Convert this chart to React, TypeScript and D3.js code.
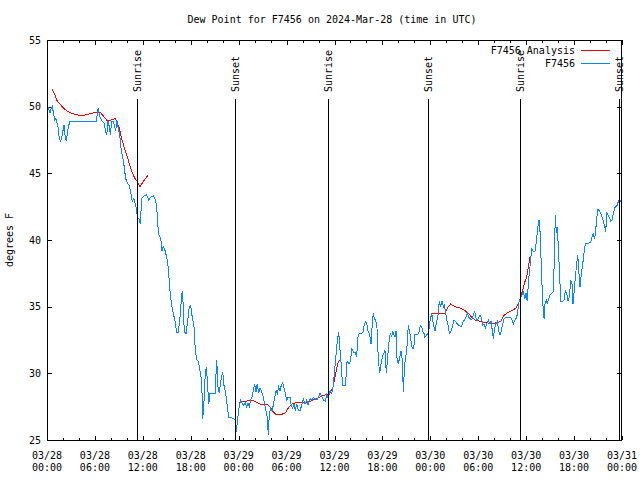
import React from "react";
import * as d3 from "d3";

// hours since 2024-03-28 00:00 UTC
const obsTime = [0.13,0.38,0.54,0.66,0.79,0.96,1.09,1.21,1.38,1.54,1.72,1.84,2.00,2.13,2.25,2.42,2.54,2.67,2.88,6.17,6.30,6.42,6.51,6.72,6.92,7.14,7.35,7.48,7.64,7.80,7.93,8.10,8.30,8.48,8.60,8.77,8.89,9.10,9.30,9.48,9.64,9.85,10.06,10.27,10.48,10.68,10.89,11.11,11.23,11.40,11.52,11.68,11.86,12.15,12.48,12.73,12.99,13.31,13.52,13.74,13.86,14.02,14.24,14.40,14.56,14.78,14.99,15.19,15.40,15.61,15.82,16.03,16.24,16.44,16.65,16.82,16.94,17.07,17.19,17.41,17.62,17.82,17.99,18.19,18.41,18.57,18.75,18.95,19.16,19.37,19.50,19.66,19.82,19.95,20.07,20.25,20.41,21.04,21.25,21.41,21.58,21.75,22.00,22.16,22.38,22.58,22.75,23.00,23.33,23.54,23.67,23.83,24.04,24.26,24.46,24.67,24.83,25.01,25.17,25.33,25.51,25.67,25.83,26.01,26.17,26.33,26.51,26.67,26.89,27.09,27.26,27.42,27.59,27.71,27.84,28.01,28.17,28.34,28.51,28.68,28.84,29.01,29.18,29.34,29.51,29.68,29.84,30.02,30.18,30.43,30.59,30.77,30.93,31.09,31.27,31.47,31.68,31.89,32.09,32.31,32.52,32.68,32.85,33.02,33.18,33.35,33.56,33.77,33.97,34.19,34.40,34.60,34.85,35.02,35.22,35.44,35.65,35.85,36.06,36.28,36.40,36.53,36.65,36.78,36.90,37.03,37.32,37.44,37.57,37.82,38.03,38.15,38.36,38.57,38.78,38.91,39.11,39.41,39.61,39.73,39.91,40.07,40.23,40.41,40.57,40.73,40.86,40.98,41.16,41.32,41.49,41.66,41.82,41.99,42.16,42.32,42.49,42.66,42.83,42.99,43.16,43.29,43.41,43.58,43.70,43.83,43.99,44.16,44.33,44.49,44.62,44.74,44.87,45.04,45.24,45.42,45.58,45.74,45.92,46.08,46.42,46.58,46.75,46.92,47.05,47.21,47.33,47.55,47.75,47.96,48.17,48.37,48.59,48.80,49.00,49.12,49.30,49.46,49.63,49.75,49.93,50.05,50.25,50.38,50.55,50.75,50.97,51.18,51.38,51.59,51.80,51.97,52.13,52.30,52.47,52.63,52.80,52.97,53.18,53.38,53.56,53.68,53.88,54.06,54.22,54.43,54.56,54.72,54.88,55.06,55.26,55.47,55.60,55.76,55.89,56.01,56.19,56.39,56.56,56.73,56.89,57.06,57.23,57.56,57.98,58.19,58.39,58.60,58.82,59.02,59.14,59.32,59.48,59.64,59.82,59.98,60.14,60.27,60.39,60.57,60.69,60.82,60.98,61.15,61.32,61.48,61.61,61.73,61.86,61.98,62.11,62.24,62.36,62.52,62.65,62.82,62.99,63.20,63.40,63.52,63.65,63.78,63.90,64.03,64.15,64.33,64.58,64.74,64.90,65.08,65.24,65.40,65.58,65.74,65.87,65.99,66.15,66.33,66.46,66.58,66.74,66.91,67.08,67.24,67.41,68.08,68.24,68.41,68.53,68.66,68.83,69.00,69.16,69.33,69.50,69.66,69.84,69.96,70.09,70.25,70.41,70.59,70.75,70.91,71.09,71.25,71.41,71.54,71.66,71.88];
const obsValue = [50.0,49.5,49.9,50.0,49.6,49.0,49.1,48.9,48.5,47.6,47.4,47.7,48.2,48.6,47.9,47.4,47.9,48.5,48.9,48.9,49.5,49.9,49.5,49.1,48.9,48.8,48.1,47.9,48.9,48.5,47.9,48.9,48.9,48.5,48.2,48.9,48.5,47.9,46.7,46.2,45.6,44.6,44.3,44.1,43.6,42.9,43.1,42.6,42.1,41.6,41.6,41.2,43.1,43.3,43.4,43.0,43.2,43.3,43.1,42.5,41.2,40.4,40.1,39.2,39.5,39.2,38.7,37.9,36.2,35.1,34.5,33.9,33.1,33.1,34.2,35.5,36.2,35.0,33.1,33.0,34.0,35.0,35.1,34.2,33.5,31.7,31.0,30.9,30.2,29.4,26.6,27.9,30.0,30.5,29.5,27.7,28.5,28.5,31.0,29.0,28.5,29.4,30.1,29.1,28.5,27.5,26.7,26.7,26.6,26.5,25.6,26.3,27.4,28.0,27.7,27.6,27.8,27.5,27.8,27.5,28.0,28.2,28.7,29.2,28.6,29.2,28.5,28.9,28.6,28.2,27.7,27.2,26.7,25.4,27.0,27.4,27.2,27.6,28.2,28.7,28.5,29.0,28.7,29.1,29.3,28.9,28.5,28.0,28.2,28.2,27.6,27.4,27.7,27.2,27.7,27.2,27.2,27.6,28.1,27.7,28.0,27.6,28.0,28.1,28.0,28.2,28.1,28.0,28.2,28.5,28.3,28.0,27.9,28.4,28.1,28.7,28.5,29.1,30.5,32.0,32.7,33.1,32.0,31.2,30.0,29.1,29.1,29.7,30.9,30.7,31.0,31.9,31.6,31.6,31.2,32.7,33.0,33.0,33.1,33.7,33.9,33.6,33.1,32.9,32.2,33.7,34.5,34.1,34.0,33.4,31.0,30.0,30.7,31.2,31.5,31.7,30.0,31.2,32.4,33.0,32.7,33.2,32.9,32.7,33.2,31.1,30.7,31.2,31.7,31.0,28.6,30.2,31.1,31.7,33.6,33.1,32.4,31.9,31.9,32.9,32.9,33.1,33.6,33.5,33.1,33.0,32.7,32.9,33.0,33.9,34.5,33.7,33.2,33.9,34.5,35.4,35.0,35.4,35.0,35.2,34.5,34.0,33.5,33.0,33.1,33.5,34.0,33.9,33.7,33.6,33.5,33.6,33.9,34.0,34.2,34.5,34.2,34.1,34.0,34.4,34.7,34.2,34.0,34.2,34.4,34.1,33.6,33.7,33.4,33.7,34.0,33.7,33.9,33.2,32.6,33.2,33.7,33.9,33.2,32.9,33.2,33.7,34.1,34.2,34.2,34.1,33.7,34.0,34.2,35.0,35.5,35.7,35.9,36.1,35.6,36.0,35.4,36.7,37.5,38.5,39.4,39.2,39.1,39.2,40.2,41.0,41.5,40.7,38.6,36.7,35.0,34.1,35.2,35.5,35.2,35.6,35.9,36.0,36.1,38.5,41.9,40.5,41.0,39.4,37.9,35.4,35.4,35.5,36.2,36.0,35.4,35.7,37.0,36.7,35.2,36.0,37.2,38.2,38.9,37.7,36.5,37.5,38.2,39.0,39.7,39.8,40.2,40.5,40.1,40.4,41.6,42.3,42.2,42.0,41.7,41.4,41.0,40.6,42.0,41.9,41.7,41.4,41.5,42.0,42.4,42.5,42.6,42.9,43.0,42.9];

// analysis series; null marks a gap
const anaTime = [0.66,1.00,1.29,1.63,2.04,2.47,3.09,3.72,4.35,4.97,5.60,6.22,6.64,7.05,7.48,7.98,8.52,8.73,9.05,9.35,9.64,9.98,10.31,10.64,11.02,11.31,11.65,12.06,12.69,null,
  24.08,24.58,24.92,25.42,26.05,26.67,27.51,27.92,28.34,28.68,29.18,29.80,30.22,30.64,31.27,32.09,32.93,33.77,34.40,35.02,35.44,35.78,36.06,36.35,36.60,null,
  48.21,49.84,50.13,50.55,51.09,51.72,52.34,52.76,53.18,53.59,54.22,55.06,55.69,56.31,56.81,57.14,57.56,58.19,58.73,59.02,59.23,59.44,59.64,59.86,60.07,60.27,60.48];
const anaValue = [51.3,50.9,50.4,50.2,49.9,49.7,49.5,49.4,49.3,49.4,49.5,49.6,49.6,49.3,49.0,49.0,49.1,48.9,48.4,47.6,47.0,46.4,45.7,45.1,44.6,44.4,44.0,44.4,44.9,null,
  27.8,27.9,27.9,28.0,27.9,27.7,27.7,27.5,27.1,26.9,26.9,27.0,27.4,27.7,27.8,27.8,27.9,28.1,28.3,28.4,28.5,28.9,29.7,30.6,31.0,null,
  34.5,34.5,34.9,35.2,35.0,34.9,34.7,34.5,34.2,34.0,33.9,33.8,33.7,33.8,33.9,34.3,34.5,34.7,34.9,35.2,35.6,36.0,36.4,36.9,37.2,38.0,38.7];

const sunEventTime = [11.31, 23.6, 35.22, 47.65, 59.27, 71.68];
const sunEventLabel = ["Sunrise", "Sunset", "Sunrise", "Sunset", "Sunrise", "Sunset"];

const yTicks = [25, 30, 35, 40, 45, 50, 55];
const xMajorTicks = d3.range(0, 73, 6);
const xMinorTicks = d3.range(0, 73, 2).filter((h) => h % 6 !== 0);
const startDate = Date.UTC(2024, 2, 28);

const seriesNames = ["F7456 Analysis", "F7456"];
const seriesColors = ["#ff0000", "#0a84ff"];

const W = 640, H = 480;
const L = 47, R = 622, T = 40, B = 440;
const FONT = "'DejaVu Sans Mono', monospace";

export default function App() {
  const x = d3.scaleLinear().domain([0, 72]).range([L, R]);
  const y = d3.scaleLinear().domain([25, 55]).range([B, T]);
  const fmtD = d3.utcFormat("%m/%d");
  const fmtT = d3.utcFormat("%H:%M");

  const obs = obsTime.map((t, i) => ({ t, v: obsValue[i] }));
  const ana = anaTime.map((t, i) => ({ t, v: anaValue[i] }));
  const line = d3
    .line<{ t: number | null; v: number | null }>()
    .defined((d) => d.t != null && d.v != null)
    .x((d) => x(d.t as number))
    .y((d) => y(d.v as number));

  return (
    <svg width={W} height={H} style={{ position: "absolute", left: 0, top: 0, background: "#fff" }}
      fontFamily={FONT} fontSize={10}>
      <rect x={0} y={0} width={W} height={H} fill="#fff" />
      <text x={332} y={23} textAnchor="middle">Dew Point for F7456 on 2024-Mar-28 (time in UTC)</text>
      <text transform={`translate(13,${(T + B) / 2}) rotate(-90)`} textAnchor="middle">degrees F</text>

      {/* y ticks */}
      {yTicks.map((v) => (
        <g key={"y" + v} shapeRendering="crispEdges">
          <line x1={L} x2={L + 5} y1={Math.round(y(v)) + 0.5} y2={Math.round(y(v)) + 0.5} stroke="#000" />
          <line x1={R - 5} x2={R} y1={Math.round(y(v)) + 0.5} y2={Math.round(y(v)) + 0.5} stroke="#000" />
          <text x={41} y={y(v)} textAnchor="end" dominantBaseline="central">{v}</text>
        </g>
      ))}

      {/* x ticks */}
      {xMajorTicks.map((h) => {
        const px = Math.round(x(h)) + 0.5;
        const d = new Date(startDate + h * 3600e3);
        return (
          <g key={"xm" + h}>
            <line x1={px} x2={px} y1={B} y2={B - 4.5} stroke="#000" shapeRendering="crispEdges" />
            <line x1={px} x2={px} y1={T} y2={T + 4.5} stroke="#000" shapeRendering="crispEdges" />
            <text x={x(h)} y={455} textAnchor="middle" dominantBaseline="central">{fmtD(d)}</text>
            <text x={x(h)} y={467} textAnchor="middle" dominantBaseline="central">{fmtT(d)}</text>
          </g>
        );
      })}
      {xMinorTicks.map((h) => {
        const px = Math.round(x(h)) + 0.5;
        return (
          <g key={"xn" + h} shapeRendering="crispEdges">
            <line x1={px} x2={px} y1={B} y2={B - 2.5} stroke="#000" />
            <line x1={px} x2={px} y1={T} y2={T + 2.5} stroke="#000" />
          </g>
        );
      })}

      {/* data */}
      <path d={line(ana) || ""} fill="none" stroke={seriesColors[0]} strokeWidth={1} shapeRendering="crispEdges" />
      <path d={line(obs) || ""} fill="none" stroke={seriesColors[1]} strokeWidth={1} shapeRendering="crispEdges" />

      {/* sunrise / sunset markers */}
      {sunEventTime.map((h, i) => {
        const px = Math.round(x(h)) + 0.5;
        return (
          <g key={"s" + i}>
            <line x1={px} x2={px} y1={99} y2={B} stroke="#000" shapeRendering="crispEdges" />
            <text transform={`translate(${px},92) rotate(-90)`} textAnchor="start" dominantBaseline="central">
              {sunEventLabel[i]}
            </text>
          </g>
        );
      })}

      {/* legend */}
      {seriesNames.map((n, i) => (
        <g key={"lg" + i}>
          <text x={575} y={50 + i * 13} textAnchor="end" dominantBaseline="central">{n}</text>
          <line x1={581} x2={610} y1={50.5 + i * 13} y2={50.5 + i * 13} stroke={seriesColors[i]} shapeRendering="crispEdges" />
        </g>
      ))}

      {/* border */}
      <rect x={L + 0.5} y={T + 0.5} width={R - L - 1} height={B - T} fill="none" stroke="#000" shapeRendering="crispEdges" />
    </svg>
  );
}
